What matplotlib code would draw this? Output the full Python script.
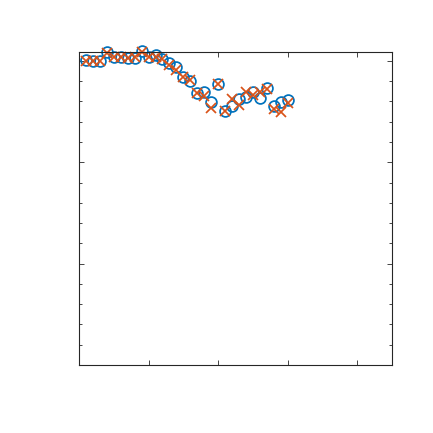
import matplotlib
matplotlib.use("Agg")
import matplotlib.pyplot as plt
from matplotlib.ticker import MultipleLocator, NullFormatter

x_index = list(range(1, 31))
series_circle = [15.05, 15.01, 15.01, 15.46, 15.21, 15.18, 15.16, 15.16, 15.49, 15.18,
                 15.29, 15.08, 14.88, 14.69, 14.22, 14.00, 13.42, 13.47, 12.97, 13.88,
                 12.52, 12.76, 13.10, 13.22, 13.48, 13.17, 13.67, 12.80, 12.99, 13.07]
series_cross = [15.01, 15.01, 15.01, 15.41, 15.21, 15.18, 15.16, 15.18, 15.46, 15.21,
                15.21, 15.08, 14.80, 14.55, 14.22, 14.06, 13.43, 13.27, 12.66, 13.86,
                12.51, 13.10, 12.83, 13.48, 13.32, 13.48, 13.62, 12.63, 12.46, 12.91]

fig = plt.figure(figsize=(4.33, 4.33), dpi=100)
ax = fig.add_axes([79/433, 68/433, 313/433, 313/433])

ax.plot(x_index, series_circle, linestyle='none', marker='o', markersize=7.8,
        markerfacecolor='none', markeredgecolor='#0072BD', markeredgewidth=1.25, clip_on=False)
ax.plot(x_index, series_cross, linestyle='none', marker='x', markersize=7,
        markeredgecolor='#D95319', markeredgewidth=1.25, clip_on=False)

ax.set_xlim(0, 45)
ax.set_ylim(0, 15.44)
ax.xaxis.set_major_locator(MultipleLocator(10))
ax.yaxis.set_major_locator(MultipleLocator(5))
ax.yaxis.set_minor_locator(MultipleLocator(1))
ax.xaxis.set_major_formatter(NullFormatter())
ax.yaxis.set_major_formatter(NullFormatter())
ax.tick_params(which='both', direction='in', top=True, right=True, color='#262626', width=0.6)
ax.tick_params(which='major', length=3.5)
ax.tick_params(which='minor', length=2)
for s in ax.spines.values():
    s.set_color('#262626')
    s.set_linewidth(0.8)

fig.savefig('out.png', dpi=100)
